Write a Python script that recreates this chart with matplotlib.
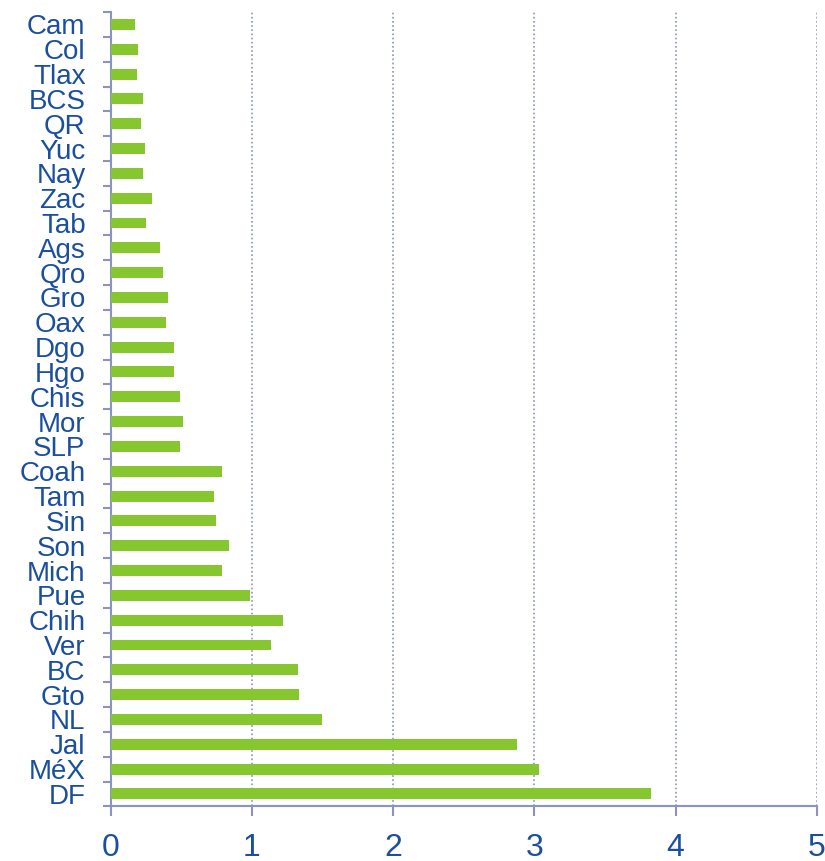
import numpy as np
import matplotlib
matplotlib.use("Agg")
import matplotlib.pyplot as plt

# states, bottom to top
states = ["DF", "MéX", "Jal", "NL", "Gto", "BC", "Ver", "Chih", "Pue", "Mich",
          "Son", "Sin", "Tam", "Coah", "SLP", "Mor", "Chis", "Hgo", "Dgo", "Oax",
          "Gro", "Qro", "Ags", "Tab", "Zac", "Nay", "Yuc", "QR", "BCS", "Tlax",
          "Col", "Cam"]
values = [3.83, 3.03, 2.88, 1.50, 1.335, 1.33, 1.135, 1.22, 0.99, 0.79,
          0.84, 0.75, 0.735, 0.79, 0.49, 0.51, 0.49, 0.45, 0.45, 0.39,
          0.41, 0.37, 0.35, 0.25, 0.29, 0.23, 0.245, 0.215, 0.23, 0.185,
          0.195, 0.17]
xticks = [0, 1, 2, 3, 4, 5]

green = "#86c62f"
axis_col = "#8a93c2"
label_col = "#1a4f9f"

plt.rcParams["font.family"] = ["Liberation Sans", "DejaVu Sans"]

fig = plt.figure(figsize=(8.25, 8.61), dpi=100)
ax = fig.add_axes([0.134, 0.0635, 0.856, 0.9225])

y = np.arange(len(states))
ax.barh(y, values, height=0.44, color=green, zorder=3)

ax.set_xlim(0, 5)
ax.set_ylim(-0.5, len(states) - 0.5)

# vertical dotted gridlines
for v in xticks[1:]:
    ax.axvline(v, color=axis_col, linestyle=(0, (1, 1.5)), linewidth=1.2, zorder=1)

# category boundaries carry the tick marks, labels sit in the middle
ax.set_yticks(np.arange(-0.5, len(states), 1.0))
ax.set_yticklabels([])
ax.set_yticks(y, minor=True)
ax.set_yticklabels(states, minor=True)
ax.tick_params(axis="y", which="major", length=6, width=1.5, color=axis_col, direction="out")
ax.tick_params(axis="y", which="minor", length=0, pad=18, labelsize=20, labelcolor=label_col)

ax.set_xticks(xticks)
ax.set_xticklabels([str(t) for t in xticks])
ax.tick_params(axis="x", length=7, width=1.5, color=axis_col, direction="out",
               pad=12, labelsize=23, labelcolor=label_col)

for s in ["top", "right"]:
    ax.spines[s].set_visible(False)
for s in ["left", "bottom"]:
    ax.spines[s].set_color(axis_col)
    ax.spines[s].set_linewidth(1.5)

fig.savefig("out.png", dpi=100, facecolor="white")
